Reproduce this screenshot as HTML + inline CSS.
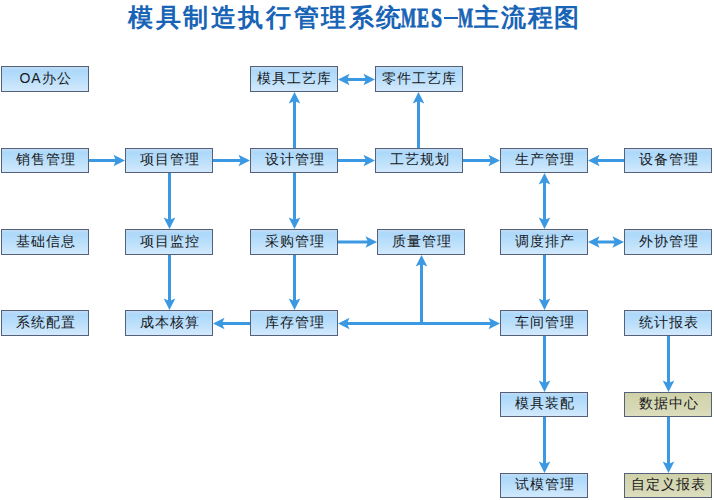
<!DOCTYPE html>
<html><head><meta charset="utf-8"><style>
html,body{margin:0;padding:0;background:#fff;width:714px;height:500px;overflow:hidden}
body{position:relative;font-family:"Liberation Sans",sans-serif}
.t{position:absolute;top:0;font-weight:bold;color:#1864b6;white-space:nowrap;line-height:34px}
.bx{position:absolute;width:88px;height:25px;box-sizing:border-box;border:1px solid #55607a;padding-left:1px;
 background:linear-gradient(#c4ddf3,#acd8fa 14%,#bce0fb 55%,#d2e9fc);font-size:14px;letter-spacing:1px;line-height:20px;text-align:center;color:#181822;white-space:nowrap}
.bx.y{background:linear-gradient(#cfd2a8,#d6d8b4 60%,#dcdebd)}
svg{position:absolute;left:0;top:0}

</style></head><body>
<div class="t" style="left:128px;font-size:25px;letter-spacing:2.6px">模具制造执行管理系统</div>
<div class="t" style="left:401px;font-family:'Liberation Serif',serif;font-size:27px;-webkit-text-stroke:0.9px #1864b6;top:1px;transform:scaleX(0.589);transform-origin:0 0">M</div><div class="t" style="left:417px;font-family:'Liberation Serif',serif;font-size:27px;-webkit-text-stroke:0.9px #1864b6;top:1px;transform:scaleX(0.666);transform-origin:0 0">E</div><div class="t" style="left:431px;font-family:'Liberation Serif',serif;font-size:27px;-webkit-text-stroke:0.9px #1864b6;top:1px;transform:scaleX(0.733);transform-origin:0 0">S</div><div style="position:absolute;left:444px;top:17px;width:14px;height:2px;background:#1864b6"></div><div class="t" style="left:458px;font-family:'Liberation Serif',serif;font-size:27px;-webkit-text-stroke:0.9px #1864b6;top:1px;transform:scaleX(0.589);transform-origin:0 0">M</div>
<div class="t" style="left:474px;font-size:25px;letter-spacing:1.8px">主流程图</div>
<div class="bx b" style="left:1px;top:66px;height:26px;padding-top:1px">OA办公</div>
<div class="bx b" style="left:250px;top:66px;height:26px;padding-top:1px">模具工艺库</div>
<div class="bx b" style="left:375px;top:66px;height:26px;padding-top:1px">零件工艺库</div>
<div class="bx b" style="left:1px;top:148px;height:25px;padding-top:0px">销售管理</div>
<div class="bx b" style="left:125px;top:148px;height:25px;padding-top:0px">项目管理</div>
<div class="bx b" style="left:250px;top:148px;height:25px;padding-top:0px">设计管理</div>
<div class="bx b" style="left:375px;top:148px;height:25px;padding-top:0px">工艺规划</div>
<div class="bx b" style="left:500px;top:148px;height:25px;padding-top:0px">生产管理</div>
<div class="bx b" style="left:624px;top:148px;height:25px;padding-top:0px">设备管理</div>
<div class="bx b" style="left:1px;top:229px;height:26px;padding-top:1px">基础信息</div>
<div class="bx b" style="left:125px;top:229px;height:26px;padding-top:1px">项目监控</div>
<div class="bx b" style="left:250px;top:229px;height:26px;padding-top:1px">采购管理</div>
<div class="bx b" style="left:377px;top:229px;height:26px;padding-top:1px">质量管理</div>
<div class="bx b" style="left:500px;top:229px;height:26px;padding-top:1px">调度排产</div>
<div class="bx b" style="left:624px;top:229px;height:26px;padding-top:1px">外协管理</div>
<div class="bx b" style="left:1px;top:310px;height:26px;padding-top:1px">系统配置</div>
<div class="bx b" style="left:125px;top:310px;height:26px;padding-top:1px">成本核算</div>
<div class="bx b" style="left:250px;top:310px;height:26px;padding-top:1px">库存管理</div>
<div class="bx b" style="left:500px;top:310px;height:26px;padding-top:1px">车间管理</div>
<div class="bx b" style="left:624px;top:310px;height:26px;padding-top:1px">统计报表</div>
<div class="bx b" style="left:500px;top:392px;height:25px;padding-top:0px">模具装配</div>
<div class="bx y" style="left:624px;top:392px;height:25px;padding-top:0px">数据中心</div>
<div class="bx b" style="left:500px;top:473px;height:25px;padding-top:0px">试模管理</div>
<div class="bx y" style="left:624px;top:473px;height:25px;padding-top:0px">自定义报表</div>
<svg width="714" height="500"><g stroke="#3b98e2" stroke-width="3" fill="none"><line x1="89.0" y1="160.5" x2="116.0" y2="160.5"/><line x1="213.0" y1="160.5" x2="241.0" y2="160.5"/><line x1="338.0" y1="160.5" x2="366.0" y2="160.5"/><line x1="463.0" y1="160.5" x2="491.0" y2="160.5"/><line x1="624.0" y1="160.5" x2="597.0" y2="160.5"/><line x1="347.0" y1="79.5" x2="366.0" y2="79.5"/><line x1="294.5" y1="148.0" x2="294.5" y2="101.0"/><line x1="418.5" y1="148.0" x2="418.5" y2="101.0"/><line x1="169.5" y1="173.0" x2="169.5" y2="220.0"/><line x1="294.5" y1="173.0" x2="294.5" y2="220.0"/><line x1="544.5" y1="182.0" x2="544.5" y2="220.0"/><line x1="338.0" y1="242.0" x2="368.0" y2="242.0"/><line x1="597.0" y1="242.0" x2="615.0" y2="242.0"/><line x1="169.5" y1="255.0" x2="169.5" y2="301.0"/><line x1="294.5" y1="255.0" x2="294.5" y2="301.0"/><line x1="544.5" y1="255.0" x2="544.5" y2="301.0"/><line x1="250.0" y1="323.5" x2="222.0" y2="323.5"/><line x1="347.0" y1="323.5" x2="491.0" y2="323.5"/><line x1="421.5" y1="323.5" x2="421.5" y2="264.0"/><line x1="668.5" y1="336.0" x2="668.5" y2="383.0"/><line x1="668.5" y1="417.0" x2="668.5" y2="464.0"/><line x1="544.5" y1="336.0" x2="544.5" y2="383.0"/><line x1="544.5" y1="417.0" x2="544.5" y2="464.0"/></g><g fill="#3b98e2"><polygon points="125.0,160.5 113.5,166.3 116.0,160.5 113.5,154.7"/><polygon points="250.0,160.5 238.5,166.3 241.0,160.5 238.5,154.7"/><polygon points="375.0,160.5 363.5,166.3 366.0,160.5 363.5,154.7"/><polygon points="500.0,160.5 488.5,166.3 491.0,160.5 488.5,154.7"/><polygon points="588.0,160.5 599.5,154.7 597.0,160.5 599.5,166.3"/><polygon points="375.0,79.5 363.5,85.3 366.0,79.5 363.5,73.7"/><polygon points="338.0,79.5 349.5,73.7 347.0,79.5 349.5,85.3"/><polygon points="294.5,92.0 300.3,103.5 294.5,101.0 288.7,103.5"/><polygon points="418.5,92.0 424.3,103.5 418.5,101.0 412.7,103.5"/><polygon points="169.5,229.0 163.7,217.5 169.5,220.0 175.3,217.5"/><polygon points="294.5,229.0 288.7,217.5 294.5,220.0 300.3,217.5"/><polygon points="544.5,229.0 538.7,217.5 544.5,220.0 550.3,217.5"/><polygon points="544.5,173.0 550.3,184.5 544.5,182.0 538.7,184.5"/><polygon points="377.0,242.0 365.5,247.8 368.0,242.0 365.5,236.2"/><polygon points="624.0,242.0 612.5,247.8 615.0,242.0 612.5,236.2"/><polygon points="588.0,242.0 599.5,236.2 597.0,242.0 599.5,247.8"/><polygon points="169.5,310.0 163.7,298.5 169.5,301.0 175.3,298.5"/><polygon points="294.5,310.0 288.7,298.5 294.5,301.0 300.3,298.5"/><polygon points="544.5,310.0 538.7,298.5 544.5,301.0 550.3,298.5"/><polygon points="213.0,323.5 224.5,317.7 222.0,323.5 224.5,329.3"/><polygon points="500.0,323.5 488.5,329.3 491.0,323.5 488.5,317.7"/><polygon points="338.0,323.5 349.5,317.7 347.0,323.5 349.5,329.3"/><polygon points="421.5,255.0 427.3,266.5 421.5,264.0 415.7,266.5"/><polygon points="668.5,392.0 662.7,380.5 668.5,383.0 674.3,380.5"/><polygon points="668.5,473.0 662.7,461.5 668.5,464.0 674.3,461.5"/><polygon points="544.5,392.0 538.7,380.5 544.5,383.0 550.3,380.5"/><polygon points="544.5,473.0 538.7,461.5 544.5,464.0 550.3,461.5"/></g></svg>
</body></html>
